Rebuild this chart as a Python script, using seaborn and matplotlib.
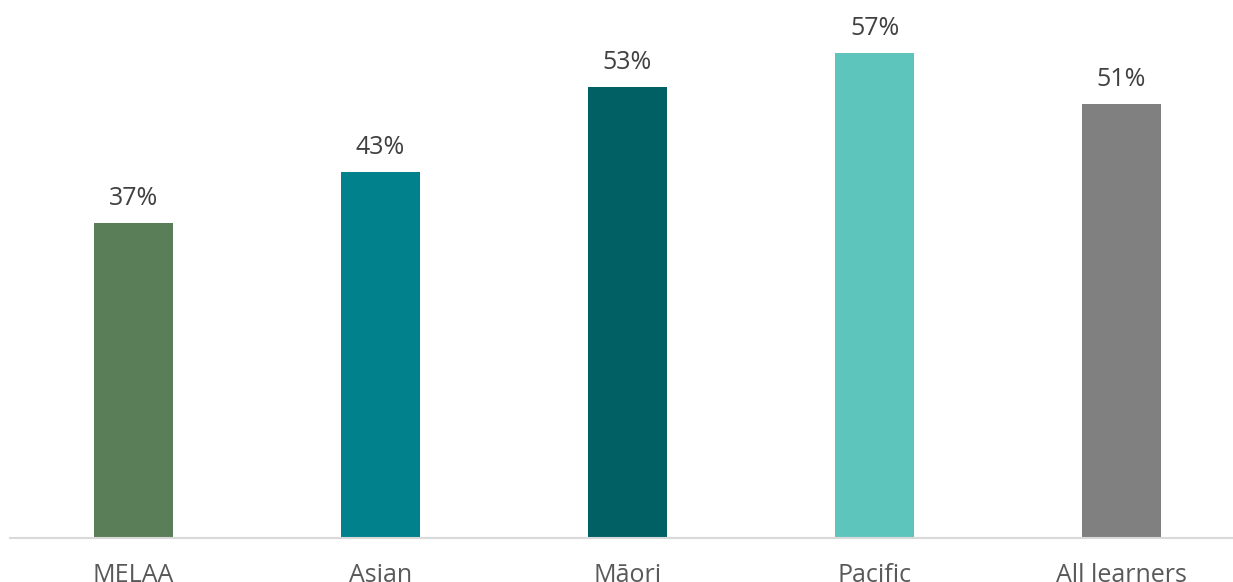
import matplotlib
matplotlib.use("Agg")
import matplotlib.pyplot as plt
import seaborn as sns
import pandas as pd

categories = ["MELAA", "Asian", "Māori", "Pacific", "All learners"]
values = [37, 43, 53, 57, 51]
colors = ["#5A7F58", "#00818C", "#006064", "#5EC5BD", "#808080"]

sns.set_theme(style="white")
plt.rcParams["font.family"] = ["Open Sans", "DejaVu Sans"]

df = pd.DataFrame({"group": categories, "pct": values})

W, H = 1233, 582
fig = plt.figure(figsize=(W / 100, H / 100), dpi=100)
base = 537.5
left = 10
ax = fig.add_axes([left / W, (H - base) / H, (W - left) / W, base / H])

sns.barplot(data=df, x="group", y="pct", hue="group", palette=colors,
            width=0.316, legend=False, ax=ax, saturation=1, linewidth=0)

px_per_unit = 484.5 / 57
ax.set_ylim(0, base / px_per_unit)
ax.set_xlim(-0.5, -0.5 + (W - left) / 247)

for i, v in enumerate(values):
    ax.annotate(f"{v}%", (i, v), xytext=(0, 8.5), textcoords="offset points",
                ha="center", va="bottom", fontsize=18, color="#404040")

ax.set_xlabel("")
ax.set_ylabel("")
ax.set_yticks([])
ax.tick_params(axis="x", length=0, pad=18, labelsize=18, labelcolor="#595959")
for s in ["top", "right", "left"]:
    ax.spines[s].set_visible(False)
ax.spines["bottom"].set_color("#D9D9D9")
ax.spines["bottom"].set_linewidth(1.5)

fig.savefig("out.png", dpi=100)
